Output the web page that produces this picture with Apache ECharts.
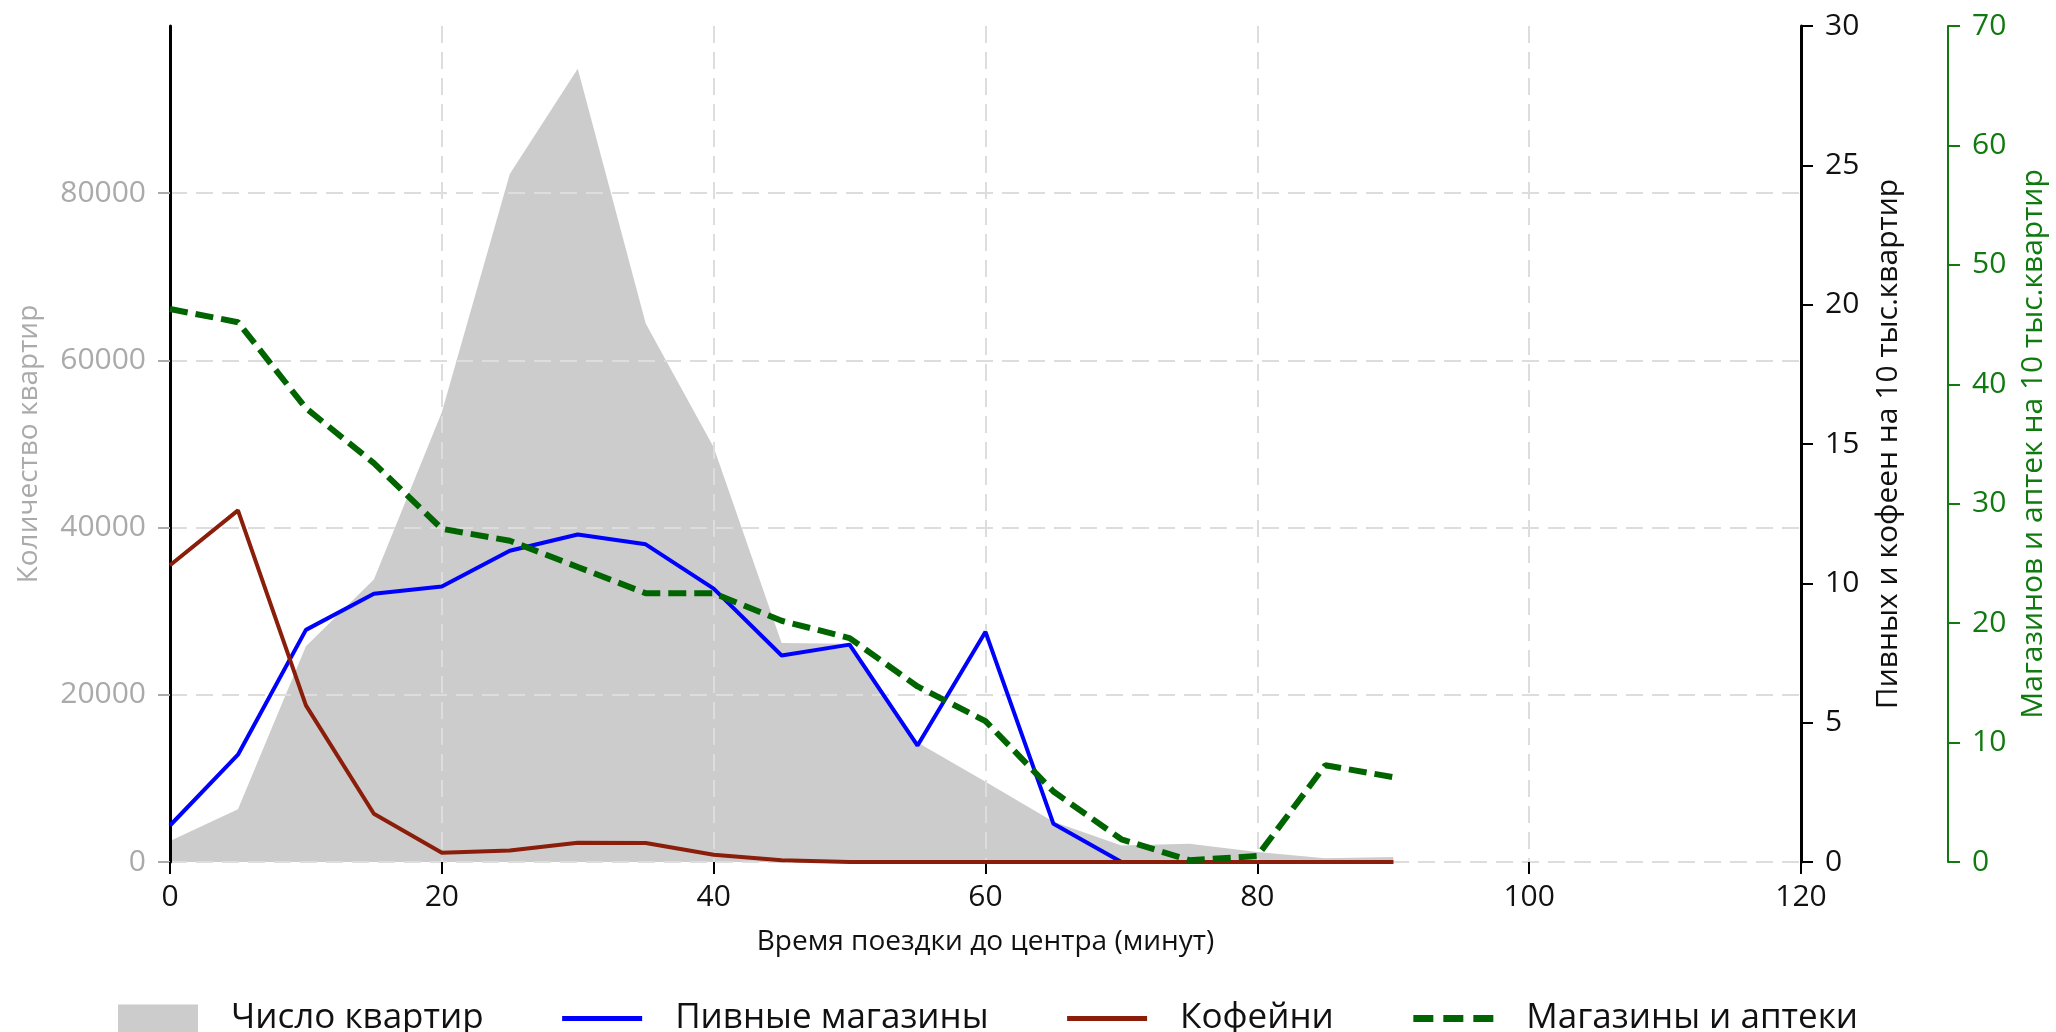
<!DOCTYPE html>
<html>
<head>
<meta charset="utf-8">
<script src="https://cdn.jsdelivr.net/npm/echarts@6/dist/echarts.min.js"></script>
<style>
  html, body { margin: 0; padding: 0; background: #ffffff; }
  #chart { width: 2056px; height: 1032px; }
</style>
</head>
<body>
<div id="chart"></div>
<script>
// Travel time to the city centre, minutes
const minutes = [0, 5, 10, 15, 20, 25, 30, 35, 40, 45, 50, 55, 60, 65, 70, 75, 80, 85, 90];
// Number of flats in each travel-time bucket
const flats = [2500, 6300, 25800, 33800, 53800, 82300, 94900, 64400, 49600, 26200, 26100, 14300, 9600, 4800, 1970, 2180, 1200, 450, 600];
// Beer shops per 10k flats
const beerShops = [1.31, 3.85, 8.33, 9.63, 9.89, 11.17, 11.75, 11.4, 9.81, 7.41, 7.8, 4.18, 8.26, 1.37, 0, 0, 0, 0, 0];
// Coffee shops per 10k flats
const coffeeShops = [10.65, 12.62, 5.62, 1.73, 0.33, 0.41, 0.69, 0.68, 0.26, 0.06, 0, 0, 0, 0, 0, 0, 0, 0, 0];
// Stores and pharmacies per 10k flats
const storesPharmacies = [46.3, 45.2, 38.0, 33.4, 27.9, 26.9, 24.7, 22.5, 22.5, 20.2, 18.75, 14.7, 11.8, 5.9, 1.9, 0.15, 0.5, 8.1, 7.1];

// Tick values of the flats axis (the top of the axis carries no tick)
const flatTicks = [0, 20000, 40000, 60000, 80000];

const seriesNames = ['Число квартир', 'Пивные магазины', 'Кофейни', 'Магазины и аптеки'];
const xTitle = 'Время поездки до центра (минут)';
const leftTitle = 'Количество квартир';
const rightTitle = 'Пивных и кофеен на 10 тыс.квартир';
const greenTitle = 'Магазинов и аптек на 10 тыс.квартир';

const pairs = vals => minutes.map((m, i) => [m, vals[i]]);

const FONT = '"Open Sans", "Noto Sans", sans-serif';
const GRID_DASH = [17, 9];
const GREEN_AXIS = '#107a10';
const BEER = '#0000ff';
const COFFEE = '#8b1e0a';
const STORES = '#006400';

const chart = echarts.init(document.getElementById('chart'), null, { renderer: 'canvas' });

chart.setOption({
  animation: false,
  backgroundColor: '#ffffff',
  textStyle: { fontFamily: FONT },
  grid: { left: 170, top: 26, width: 1632, height: 836 },
  legend: {
    left: 113,
    top: 996,
    itemWidth: 80,
    itemHeight: 28,
    itemGap: 76,
    // line icons show only the stroke, no marker
    itemStyle: { opacity: 0 },
    textStyle: { fontSize: 35, color: '#111', fontFamily: FONT, padding: [0, 0, 0, 28] },
    data: [
      { name: seriesNames[0], icon: 'rect', itemStyle: { opacity: 1, color: '#cccccc' } },
      { name: seriesNames[1], lineStyle: { width: 5, color: BEER } },
      { name: seriesNames[2], lineStyle: { width: 5, color: COFFEE } },
      { name: seriesNames[3], lineStyle: { width: 7, color: STORES, type: [20, 10] } }
    ]
  },
  xAxis: {
    type: 'value',
    min: 0, max: 120, interval: 20,
    name: xTitle,
    nameLocation: 'middle',
    nameGap: 66,
    nameTextStyle: { fontSize: 28, color: '#111', fontFamily: FONT },
    axisLine: { show: false },
    axisTick: { show: true, length: 12, lineStyle: { color: '#000', width: 2 } },
    axisLabel: { fontSize: 30, color: '#111', margin: 20, fontFamily: FONT },
    splitLine: { show: true, lineStyle: { color: '#dddddd', width: 2, type: GRID_DASH } }
  },
  yAxis: [
    {
      type: 'value',
      position: 'left',
      min: 0, max: 100000, interval: 20000,
      name: leftTitle,
      nameLocation: 'middle',
      nameRotate: 90,
      nameGap: 127,
      nameTextStyle: { fontSize: 28, color: '#aaaaaa', fontFamily: FONT },
      axisLine: { show: true, onZero: false, lineStyle: { color: '#000', width: 3 } },
      axisTick: { show: true, length: 12, customValues: flatTicks, lineStyle: { color: '#aaaaaa', width: 2 } },
      axisLabel: {
        fontSize: 30, color: '#aaaaaa', margin: 24, fontFamily: FONT,
        customValues: flatTicks,
        formatter: v => String(v)
      },
      splitLine: { show: true, lineStyle: { color: '#dddddd', width: 2, type: GRID_DASH } }
    },
    {
      type: 'value',
      position: 'right',
      min: 0, max: 30, interval: 5,
      name: rightTitle,
      nameLocation: 'middle',
      nameRotate: 90,
      nameGap: 72,
      nameTextStyle: { fontSize: 30, color: '#111', fontFamily: FONT },
      axisLine: { show: true, onZero: false, lineStyle: { color: '#000', width: 3 } },
      axisTick: { show: true, length: 12, lineStyle: { color: '#000', width: 2 } },
      axisLabel: { fontSize: 30, color: '#111', margin: 24, fontFamily: FONT },
      splitLine: { show: false }
    },
    {
      type: 'value',
      position: 'right',
      offset: 147,
      min: 0, max: 70, interval: 10,
      name: greenTitle,
      nameLocation: 'middle',
      nameRotate: 90,
      nameGap: 70,
      nameTextStyle: { fontSize: 30, color: GREEN_AXIS, fontFamily: FONT },
      axisLine: { show: true, onZero: false, lineStyle: { color: GREEN_AXIS, width: 2 } },
      axisTick: { show: true, length: 12, lineStyle: { color: GREEN_AXIS, width: 2 } },
      axisLabel: { fontSize: 30, color: GREEN_AXIS, margin: 24, fontFamily: FONT },
      splitLine: { show: false }
    }
  ],
  series: [
    {
      name: seriesNames[0],
      type: 'line',
      yAxisIndex: 0,
      z: -1,
      data: pairs(flats),
      symbol: 'none',
      lineStyle: { width: 0, color: '#cccccc' },
      itemStyle: { color: '#cccccc' },
      areaStyle: { color: '#cccccc', opacity: 1 }
    },
    {
      name: seriesNames[1],
      type: 'line',
      yAxisIndex: 1,
      data: pairs(beerShops),
      symbol: 'none',
      lineStyle: { width: 4, color: BEER },
      itemStyle: { color: BEER }
    },
    {
      name: seriesNames[2],
      type: 'line',
      yAxisIndex: 1,
      data: pairs(coffeeShops),
      symbol: 'none',
      lineStyle: { width: 4, color: COFFEE },
      itemStyle: { color: COFFEE }
    },
    {
      name: seriesNames[3],
      type: 'line',
      yAxisIndex: 2,
      data: pairs(storesPharmacies),
      symbol: 'none',
      lineStyle: { width: 6, color: STORES, type: [18, 8] },
      itemStyle: { color: STORES }
    }
  ]
});
</script>
</body>
</html>
